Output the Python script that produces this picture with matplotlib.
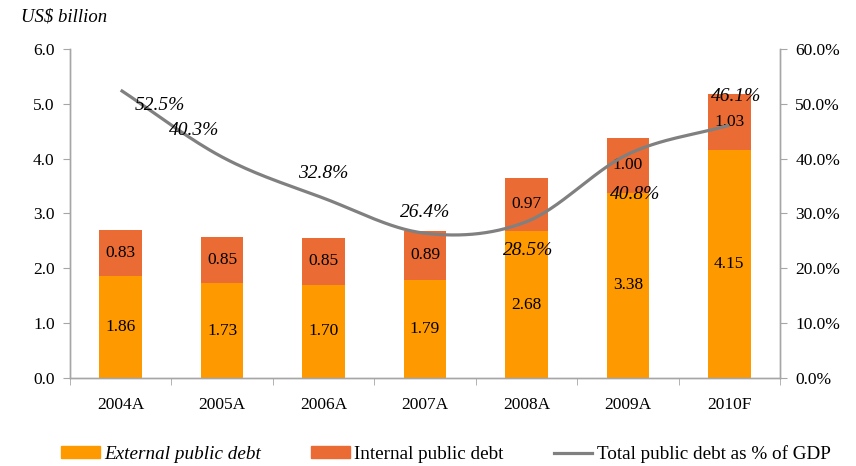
import numpy as np
import matplotlib
matplotlib.use("Agg")
import matplotlib.pyplot as plt
from matplotlib.patches import Patch
from matplotlib.lines import Line2D

categories = ["2004A", "2005A", "2006A", "2007A", "2008A", "2009A", "2010F"]
external = [1.86, 1.73, 1.70, 1.79, 2.68, 3.38, 4.15]
internal = [0.83, 0.85, 0.85, 0.89, 0.97, 1.00, 1.03]
pct_gdp = [52.5, 40.3, 32.8, 26.4, 28.5, 40.8, 46.1]
left_ticks = [0.0, 1.0, 2.0, 3.0, 4.0, 5.0, 6.0]
right_ticks = [0, 10, 20, 30, 40, 50, 60]

# label offsets (points) for percentage annotations
pct_offsets = [(28, -11), (-20, 19), (0, 18), (0, 15), (1, -21), (5, -29), (5, 21)]

plt.rcParams['font.family'] = ['Liberation Serif', 'DejaVu Serif']
FS = 12.5
FS_PCT = 14
FS_LEG = 13.8
C_EXT = "#FF9900"
C_INT = "#EB6B34"
C_LINE = "#808080"
C_AX = "#A6A6A6"

fig = plt.figure(figsize=(8.56, 4.66), dpi=100)
ax = fig.add_axes([70/856, 1-378/466, 710/856, 329/466])
ax2 = ax.twinx()

x = np.arange(len(categories))
w = 0.42
ax.bar(x, external, w, color=C_EXT, zorder=2)
ax.bar(x, internal, w, bottom=external, color=C_INT, zorder=2)
for xi, e, i in zip(x, external, internal):
    ax.text(xi, e/2, f"{e:.2f}", ha="center", va="center", fontsize=FS, zorder=5)
    ax.text(xi, e + i/2, f"{i:.2f}", ha="center", va="center", fontsize=FS, zorder=5)

ax.set_xlim(-0.5, len(categories)-0.5)
ax.set_ylim(0, 6)
ax.set_yticks(left_ticks)
ax.set_yticklabels([f"{t:.1f}" for t in left_ticks], fontsize=FS)
ax.set_xticks(x)
ax.set_xticklabels(categories, fontsize=FS)
ax.set_xticks(np.arange(len(categories)+1)-0.5, minor=True)
ax.tick_params(axis="x", which="major", length=0, pad=14)
ax.tick_params(axis="x", which="minor", length=5, color=C_AX, direction="out")
ax.tick_params(axis="y", length=5, color=C_AX, pad=6)

# smoothed line (Catmull-Rom through data points)
px = x.astype(float)
py = np.array(pct_gdp, dtype=float)
sx, sy = [], []
P = np.column_stack([px, py])
Pext = np.vstack([P[0] - (P[1]-P[0]), P, P[-1] + (P[-1]-P[-2])])
for k in range(1, len(Pext)-2):
    p0, p1, p2, p3 = Pext[k-1], Pext[k], Pext[k+1], Pext[k+2]
    for t in np.linspace(0, 1, 30, endpoint=(k == len(Pext)-3)):
        pt = 0.5*((2*p1) + (-p0+p2)*t + (2*p0-5*p1+4*p2-p3)*t**2 + (-p0+3*p1-3*p2+p3)*t**3)
        sx.append(pt[0]); sy.append(pt[1])
ax2.plot(sx, sy, color=C_LINE, lw=2.3, zorder=4, solid_capstyle="butt")
ax2.set_ylim(0, 60)
ax2.set_yticks(right_ticks)
ax2.set_yticklabels([f"{t:.1f}%" for t in right_ticks], fontsize=FS)
ax2.tick_params(axis="y", length=5, color=C_AX, pad=6)
for xi, v, off in zip(x, pct_gdp, pct_offsets):
    ax2.annotate(f"{v:.1f}%", (xi, v), xytext=off, textcoords="offset points",
                 ha="center", va="center", fontsize=FS_PCT, style="italic", zorder=6)

for a in (ax, ax2):
    a.spines["top"].set_visible(False)
    for s in ("left", "right", "bottom"):
        a.spines[s].set_color(C_AX)
        a.spines[s].set_linewidth(1.0)
ax.set_zorder(1); ax2.set_zorder(2); ax2.patch.set_visible(False)

fig.text(21/856, 1-17/466, "US$ billion", fontsize=13.5, style="italic", ha="left", va="center")

handles = [Patch(color=C_EXT), Patch(color=C_INT), Line2D([0], [0], color=C_LINE, lw=2.3)]
labels = ["External public debt", "Internal public debt", "Total public debt as % of GDP"]
leg = fig.legend(handles, labels, loc="center", bbox_to_anchor=(446/856, 1-454/466), ncol=3,
                 frameon=False, fontsize=FS_LEG, handlelength=2.0, handleheight=0.6,
                 handletextpad=0.25, columnspacing=2.6, borderaxespad=0, borderpad=0)
leg.get_texts()[0].set_style("italic")

fig.savefig("out.png", dpi=100)
